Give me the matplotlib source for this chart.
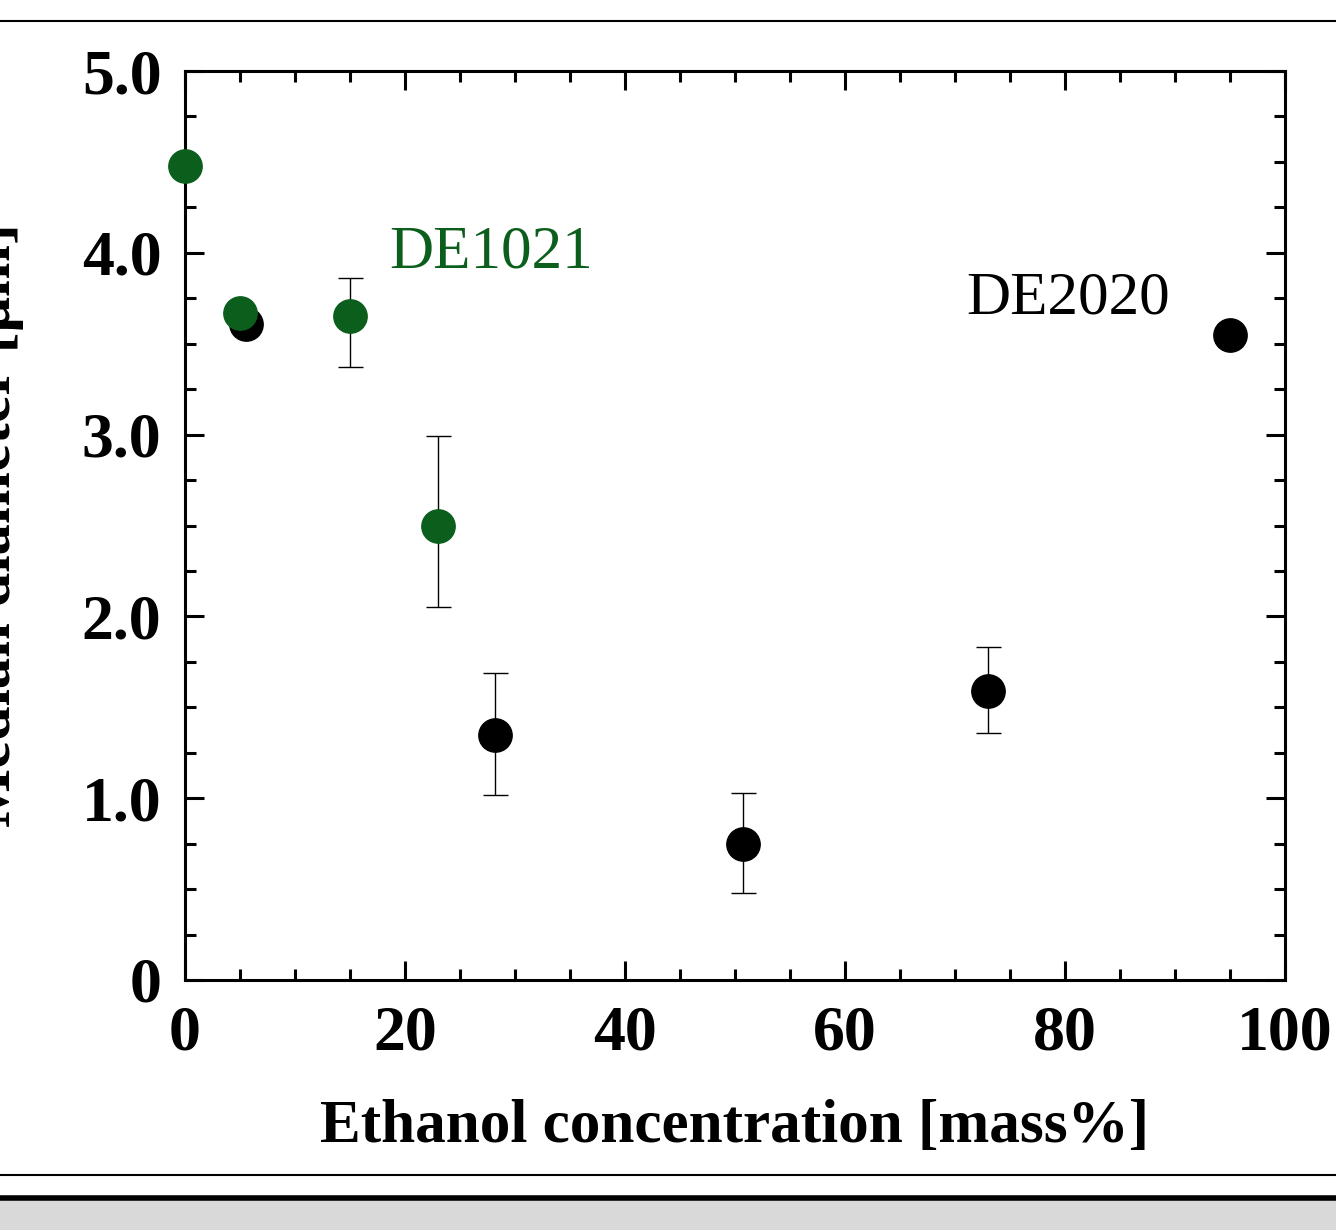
import matplotlib
matplotlib.use("Agg")
import matplotlib.pyplot as plt
from matplotlib.ticker import MultipleLocator, FixedLocator
from matplotlib.lines import Line2D
from matplotlib.patches import Rectangle

# Data
de1021_x = [0.0, 5.0, 15.0, 23.0]
de1021_y = [4.48, 3.67, 3.65, 2.50]
de1021_lo = [0.0, 0.0, 0.28, 0.45]
de1021_hi = [0.0, 0.0, 0.21, 0.49]

de2020_x = [5.5, 28.2, 50.7, 73.0, 95.0]
de2020_y = [3.61, 1.35, 0.75, 1.59, 3.55]
de2020_lo = [0.0, 0.33, 0.27, 0.23, 0.0]
de2020_hi = [0.0, 0.34, 0.28, 0.24, 0.0]

x_ticks = [0, 20, 40, 60, 80, 100]
x_ticklabels = ["0", "20", "40", "60", "80", "100"]
y_ticks = [0, 1, 2, 3, 4, 5]
y_ticklabels = ["0", "1.0", "2.0", "3.0", "4.0", "5.0"]

green = "#0b5e1c"
W, H = 1336, 1230
fig = plt.figure(figsize=(W / 100, H / 100), dpi=100)
plt.rcParams["font.family"] = ["Liberation Serif", "DejaVu Serif"]

ax = fig.add_axes([185 / W, 1 - 980 / H, 1100 / W, 909 / H])
ax.set_xlim(0, 100)
ax.set_ylim(0, 5)

ax.errorbar(de2020_x, de2020_y, yerr=[de2020_lo, de2020_hi], fmt="o", color="black",
            ms=24, ecolor="black", elinewidth=1, capsize=9, capthick=1, clip_on=False, zorder=3)
ax.errorbar(de1021_x, de1021_y, yerr=[de1021_lo, de1021_hi], fmt="o", color=green,
            ms=24, ecolor="black", elinewidth=1, capsize=9, capthick=1, clip_on=False, zorder=4)

ax.text(18.6, 4.0, "DE1021", color=green, fontsize=44, va="center", ha="left")
ax.text(71.0, 3.75, "DE2020", color="black", fontsize=44, va="center", ha="left")

ax.xaxis.set_major_locator(FixedLocator(x_ticks))
ax.set_xticklabels(x_ticklabels)
ax.yaxis.set_major_locator(FixedLocator(y_ticks))
ax.set_yticklabels(y_ticklabels)
ax.xaxis.set_minor_locator(MultipleLocator(5))
ax.yaxis.set_minor_locator(MultipleLocator(0.25))
ax.tick_params(which="both", direction="in", top=True, right=True, width=2.2)
ax.tick_params(which="major", length=14, labelsize=46)
ax.tick_params(axis="y", which="major", pad=17)
ax.tick_params(axis="x", which="major", pad=18)
ax.tick_params(which="minor", length=8)
for lab in ax.get_xticklabels() + ax.get_yticklabels():
    lab.set_fontweight("bold")
for s in ax.spines.values():
    s.set_linewidth(2.2)

ax.set_xlabel("Ethanol concentration [mass%]", fontsize=44, fontweight="bold", labelpad=26)
fig.text(-5 / W, 1 - 525 / H, "Median diameter [\u03bcm]", rotation=90, fontsize=45,
         fontweight="bold", ha="center", va="center")

# page decorations
fig.add_artist(Line2D([0, 1], [1 - 21 / H] * 2, color="black", lw=1.5, transform=fig.transFigure))
fig.add_artist(Line2D([0, 1], [1 - 1175 / H] * 2, color="black", lw=1.5, transform=fig.transFigure))
fig.add_artist(Rectangle((0, 0), 1, 32 / H, facecolor="#d9d9d9", edgecolor="none", transform=fig.transFigure))
fig.add_artist(Line2D([0, 1], [1 - 1198 / H] * 2, color="black", lw=4, transform=fig.transFigure))

fig.savefig("out.png", dpi=100)
